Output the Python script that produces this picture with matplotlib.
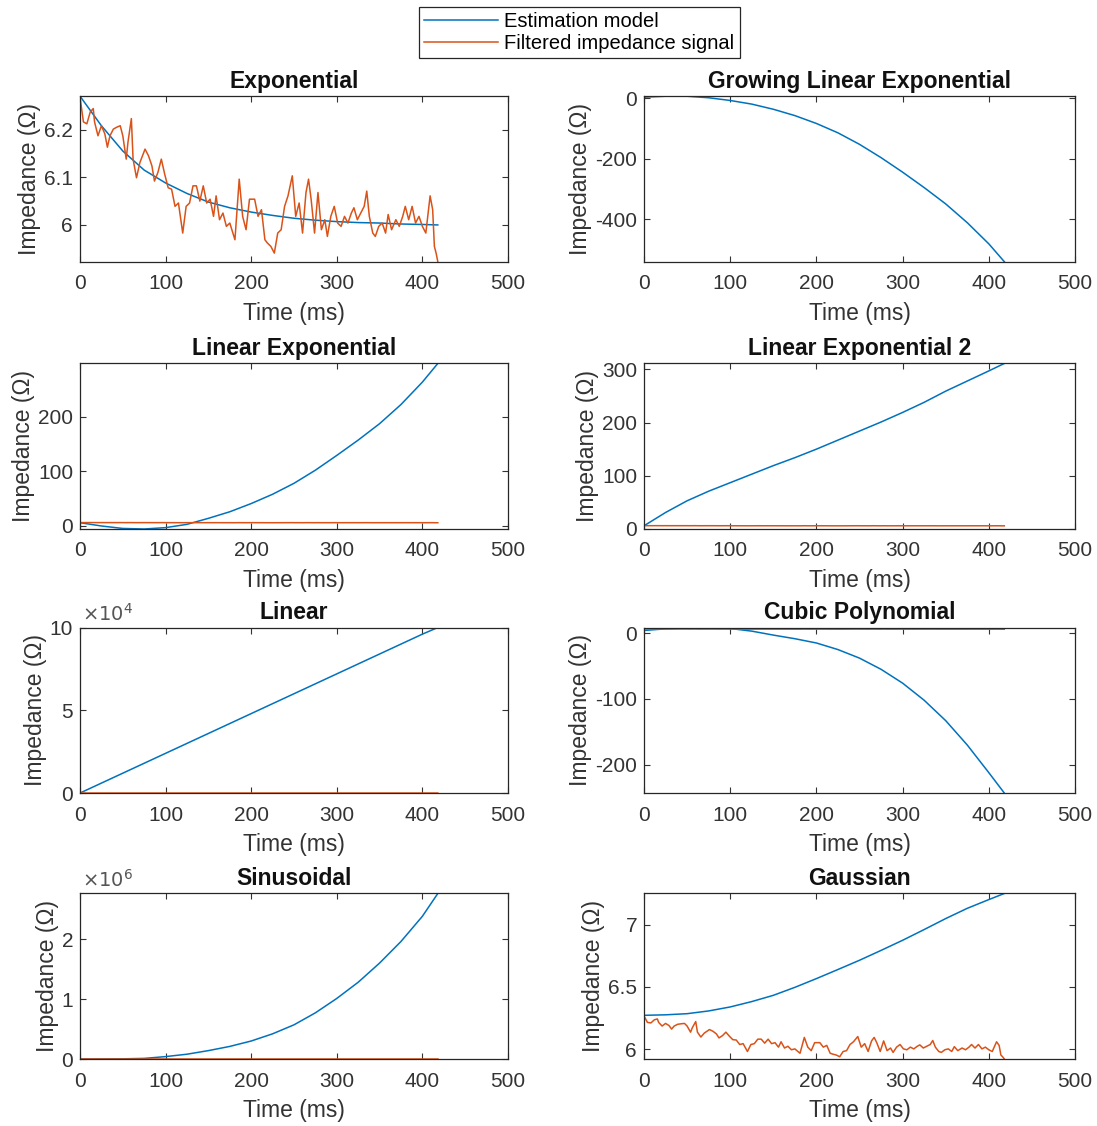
import matplotlib
matplotlib.use('Agg')
import matplotlib.pyplot as plt

plt.rcParams['font.family'] = ['Liberation Sans', 'DejaVu Sans']

# filtered impedance signal (same in every panel)
t_filt = [0, 4, 8, 12, 15.5, 17, 21, 25, 29, 32, 35, 39, 43, 47, 50, 54, 56, 60, 62, 66,
          70, 76, 80, 84, 87, 91, 95, 99, 103, 107, 111, 115, 120, 124, 128, 132, 136, 140,
          144, 148, 152, 156, 159, 163, 167, 171, 175, 181, 186, 190, 194, 198, 204, 208,
          212, 216, 219, 223, 227, 231, 235, 239, 243, 248, 252, 256, 260, 264, 267, 270,
          274, 278, 282, 286, 289, 293, 297, 301, 305, 309, 313, 317, 320, 324, 328, 332,
          335, 338, 342, 345, 349, 353, 357, 360, 364, 369, 373, 377, 380, 384, 388, 392,
          396, 400, 404, 409, 412, 414, 416, 418]
z_filt = [6.268, 6.216, 6.212, 6.237, 6.244, 6.216, 6.187, 6.208, 6.191, 6.163, 6.187, 6.201,
          6.205, 6.208, 6.187, 6.138, 6.173, 6.223, 6.138, 6.099, 6.131, 6.159, 6.145, 6.124,
          6.092, 6.110, 6.138, 6.106, 6.078, 6.075, 6.039, 6.046, 5.983, 6.039, 6.046, 6.082,
          6.082, 6.050, 6.082, 6.046, 6.054, 6.018, 6.061, 6.011, 6.025, 5.997, 6.004, 5.969,
          6.096, 6.018, 5.990, 6.054, 6.054, 6.018, 6.032, 5.969, 5.962, 5.955, 5.941, 5.983,
          5.990, 6.039, 6.061, 6.103, 6.018, 6.046, 5.983, 6.068, 6.096, 6.054, 5.983, 6.068,
          5.990, 6.011, 5.976, 6.018, 6.039, 6.004, 5.997, 6.018, 6.004, 6.025, 6.036, 6.011,
          6.025, 6.039, 6.071, 6.018, 5.983, 5.976, 5.997, 6.004, 5.983, 6.022, 5.990, 6.011,
          5.997, 6.018, 6.039, 6.011, 6.039, 6.004, 6.018, 5.997, 5.983, 6.061, 6.032, 5.955,
          5.941, 5.923]

# estimation models
t_mod = [0, 25, 50, 75, 100, 125, 150, 175, 200, 225, 250, 275, 300, 325, 350, 375, 400, 418]
m_exponential = [6.27, 6.208, 6.155, 6.115, 6.088, 6.066, 6.048, 6.036, 6.027, 6.02, 6.014,
                 6.01, 6.007, 6.005, 6.004, 6.002, 6.001, 6.0]
m_growing = [3, 6, 6, 1, -8, -20, -37, -58, -84, -115, -153, -197, -245, -296, -350, -412,
             -482, -541]
m_linexp = [6, 0, -4.5, -5.5, -3, 3, 14, 26, 41, 58, 78, 102, 129, 157, 187, 222, 263, 297]
m_linexp2 = [6, 31, 53, 71, 87, 103, 119, 134, 150, 167, 184, 201, 219, 238, 259, 278, 297, 311]
m_linear = [0, 6000, 12000, 18000, 24000, 30000, 36000, 42000, 48000, 54000, 60000, 66000,
            72000, 78000, 84000, 90000, 96000, 100000]
m_cubic = [4, 6.5, 8, 8.5, 7, 3, -3, -8.5, -15, -25, -38, -55, -76, -102, -133, -170, -212, -243]
m_sinus = [0, 500, 3000, 10000, 40000, 80000, 140000, 210000, 300000, 420000, 570000, 770000,
           1010000, 1280000, 1600000, 1960000, 2380000, 2760000]
m_gauss = [6.273, 6.277, 6.286, 6.308, 6.34, 6.383, 6.433, 6.497, 6.567, 6.64, 6.714, 6.793,
           6.874, 6.96, 7.048, 7.13, 7.2, 7.249]

titles = ['Exponential', 'Growing Linear Exponential', 'Linear Exponential',
          'Linear Exponential 2', 'Linear', 'Cubic Polynomial', 'Sinusoidal', 'Gaussian']
models = [m_exponential, m_growing, m_linexp, m_linexp2, m_linear, m_cubic, m_sinus, m_gauss]
yticks = [[6, 6.1, 6.2], [-400, -200, 0], [0, 100, 200], [0, 100, 200, 300],
          [0, 50000, 100000], [-200, -100, 0], [0, 1e6, 2e6], [6, 6.5, 7]]
ytick_labels = [['6', '6.1', '6.2'], ['-400', '-200', '0'], ['0', '100', '200'],
                ['0', '100', '200', '300'], ['0', '5', '10'], ['-200', '-100', '0'],
                ['0', '1', '2'], ['6', '6.5', '7']]
exponents = {4: 4, 6: 6}
xticks = [0, 100, 200, 300, 400, 500]

blue = '#0072BD'
orange = '#D95319'
grey = '#333333'

fig = plt.figure(figsize=(10.97, 11.26), dpi=100)
lefts = [80 / 1097, 644 / 1097]
widths = [428 / 1097, 431 / 1097]
bottoms = [0.7676, 0.5302, 0.2957, 0.0595]
height = 0.147

for i in range(8):
    r, c = i // 2, i % 2
    ax = fig.add_axes([lefts[c], bottoms[r], widths[c], height])
    l1, = ax.plot(t_mod, models[i], color=blue, lw=1.1)
    l2, = ax.plot(t_filt, z_filt, color=orange, lw=1.1)
    ax.set_xlim(0, 500)
    lo = min(min(models[i]), min(z_filt))
    hi = max(max(models[i]), max(z_filt))
    ax.set_ylim(lo, hi)
    ax.set_xticks(xticks)
    ax.set_xticklabels([str(v) for v in xticks])
    ax.set_yticks(yticks[i])
    ax.set_yticklabels(ytick_labels[i])
    if i in exponents:
        ax.text(0.005, 1.015, r'$\times10^{%d}$' % exponents[i], transform=ax.transAxes,
                fontsize=14, color='#555555', ha='left', va='bottom')
    ax.tick_params(direction='in', top=True, right=True, labelsize=15, colors=grey,
                   length=4, width=0.8)
    ax.tick_params(axis='x', pad=9)
    ax.tick_params(axis='y', pad=5)
    for s in ax.spines.values():
        s.set_color('#262626')
        s.set_linewidth(0.9)
    ax.set_title(titles[i], fontsize=16.5, fontweight='bold', color='#111111', pad=6)
    ax.set_xlabel('Time (ms)', fontsize=16.5, color=grey, labelpad=6)
    ax.set_ylabel('Impedance (Ω)', fontsize=16.5, color=grey, labelpad=2)

leg = fig.legend([l1, l2], ['Estimation model', 'Filtered impedance signal'],
                 loc='upper center', bbox_to_anchor=(0.528, 0.994), fontsize=14.5,
                 fancybox=False, edgecolor='#262626', framealpha=1, handlelength=3.7,
                 borderpad=0.25, labelspacing=0.15, handletextpad=0.3, borderaxespad=0)
leg.get_frame().set_linewidth(0.9)

plt.savefig('out.png', dpi=100)
plt.close()
